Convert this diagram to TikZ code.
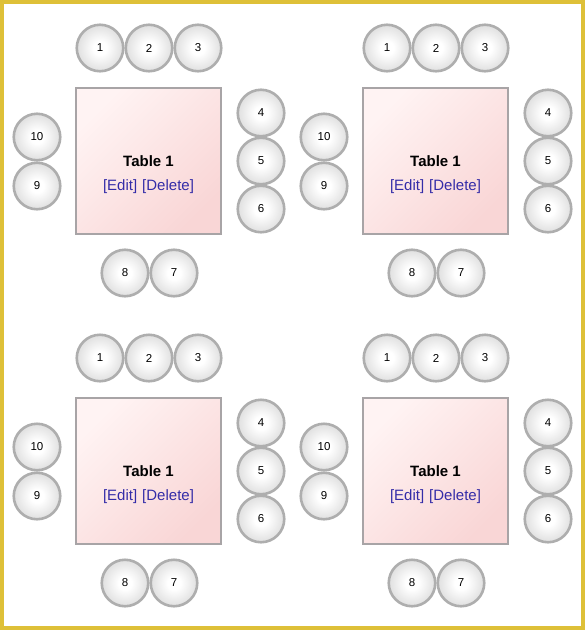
\documentclass[tikz,border=0pt]{standalone}
\usepackage{fontspec}
\setmainfont{Liberation Sans}
\usetikzlibrary{positioning,calc}
\definecolor{frameyellow}{RGB}{222,192,56}
\definecolor{seatgray}{RGB}{174,174,174}
\definecolor{seatshade}{RGB}{206,206,206}
\definecolor{tableedge}{RGB}{168,164,166}
\definecolor{tablelight}{RGB}{255,243,243}
\definecolor{tablepink}{RGB}{249,214,214}
\definecolor{linkblue}{RGB}{52,44,168}
\pgfdeclareradialshading{seatball}{\pgfpoint{0bp}{0bp}}{color(0bp)=(white); color(7bp)=(white); color(35bp)=(seatshade); color(100bp)=(seatshade)}

\begin{document}
\begin{tikzpicture}[x=1pt, y=-1pt,
    seat/.style={circle, draw=seatgray, line width=2.6pt, shading=seatball,
                 minimum size=46.5pt, inner sep=0pt, font=\fontsize{11.5}{13}\selectfont},
    tablebox/.style={rectangle, draw=tableedge, line width=2.8pt, top color=tablelight,
                 bottom color=tablepink, shading angle=45, minimum width=145pt, minimum height=146pt},
    tabletitle/.style={inner sep=0pt, font=\fontsize{15}{17}\selectfont\bfseries},
    tablelinks/.style={inner sep=0pt, text=linkblue, font=\fontsize{15}{17}\selectfont}]
    \useasboundingbox (0,0) rectangle (585,630);
    \draw[frameyellow, line width=4pt] (2,2) rectangle (583,628);

    % top left table
    \begin{scope}[shift={(0,0)}, name prefix=tl-]
    \node[tablebox] (table) at (148.5,161) {};
    \node[tabletitle] (title) at (148.5,161) {Table 1};
    \node[tablelinks] (links) at (148.5,186.5) {[Edit]\hspace{5pt}[Delete]};
    \node[seat] (s1) at (100,48) {1};
    \node[seat] (s2) at (149,48) {2};
    \node[seat] (s3) at (198,48) {3};
    \node[seat] (s4) at (261,113) {4};
    \node[seat] (s5) at (261,161) {5};
    \node[seat] (s6) at (261,209) {6};
    \node[seat] (s7) at (174,273) {7};
    \node[seat] (s8) at (125,273) {8};
    \node[seat] (s9) at (37,186) {9};
    \node[seat] (s10) at (37,137) {10};
    \end{scope}

    % top right table
    \begin{scope}[shift={(287,0)}, name prefix=tr-]
    \node[tablebox] (table) at (148.5,161) {};
    \node[tabletitle] (title) at (148.5,161) {Table 1};
    \node[tablelinks] (links) at (148.5,186.5) {[Edit]\hspace{5pt}[Delete]};
    \node[seat] (s1) at (100,48) {1};
    \node[seat] (s2) at (149,48) {2};
    \node[seat] (s3) at (198,48) {3};
    \node[seat] (s4) at (261,113) {4};
    \node[seat] (s5) at (261,161) {5};
    \node[seat] (s6) at (261,209) {6};
    \node[seat] (s7) at (174,273) {7};
    \node[seat] (s8) at (125,273) {8};
    \node[seat] (s9) at (37,186) {9};
    \node[seat] (s10) at (37,137) {10};
    \end{scope}

    % bottom left table
    \begin{scope}[shift={(0,310)}, name prefix=bl-]
    \node[tablebox] (table) at (148.5,161) {};
    \node[tabletitle] (title) at (148.5,161) {Table 1};
    \node[tablelinks] (links) at (148.5,186.5) {[Edit]\hspace{5pt}[Delete]};
    \node[seat] (s1) at (100,48) {1};
    \node[seat] (s2) at (149,48) {2};
    \node[seat] (s3) at (198,48) {3};
    \node[seat] (s4) at (261,113) {4};
    \node[seat] (s5) at (261,161) {5};
    \node[seat] (s6) at (261,209) {6};
    \node[seat] (s7) at (174,273) {7};
    \node[seat] (s8) at (125,273) {8};
    \node[seat] (s9) at (37,186) {9};
    \node[seat] (s10) at (37,137) {10};
    \end{scope}

    % bottom right table
    \begin{scope}[shift={(287,310)}, name prefix=br-]
    \node[tablebox] (table) at (148.5,161) {};
    \node[tabletitle] (title) at (148.5,161) {Table 1};
    \node[tablelinks] (links) at (148.5,186.5) {[Edit]\hspace{5pt}[Delete]};
    \node[seat] (s1) at (100,48) {1};
    \node[seat] (s2) at (149,48) {2};
    \node[seat] (s3) at (198,48) {3};
    \node[seat] (s4) at (261,113) {4};
    \node[seat] (s5) at (261,161) {5};
    \node[seat] (s6) at (261,209) {6};
    \node[seat] (s7) at (174,273) {7};
    \node[seat] (s8) at (125,273) {8};
    \node[seat] (s9) at (37,186) {9};
    \node[seat] (s10) at (37,137) {10};
    \end{scope}
\end{tikzpicture}
\end{document}
